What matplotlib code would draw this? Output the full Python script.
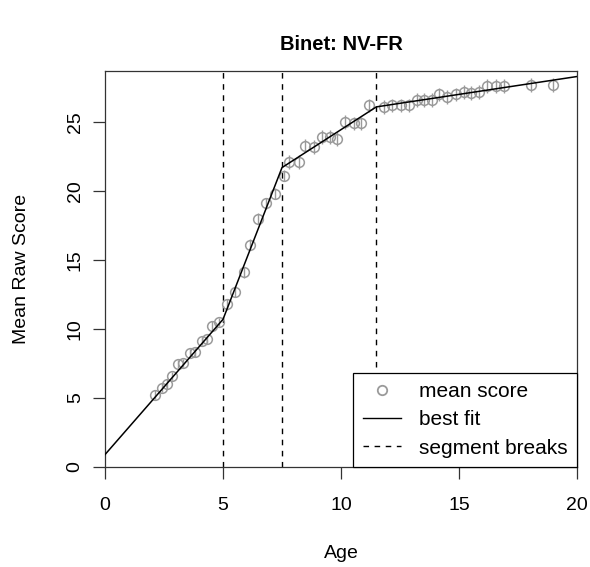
import matplotlib
matplotlib.use("Agg")
import matplotlib.pyplot as plt
from matplotlib.lines import Line2D

# ---- data ----
age = [2.12, 2.41, 2.62, 2.83, 3.11, 3.32, 3.61, 3.82, 4.10, 4.32, 4.53, 4.81,
       5.17, 5.52, 5.87, 6.16, 6.48, 6.82, 7.20, 7.57,
       7.80, 8.21, 8.49, 8.84, 9.20, 9.55, 9.84, 10.19, 10.54, 10.83, 11.18,
       11.82, 12.17, 12.53, 12.88, 13.24, 13.52, 13.87, 14.15, 14.50, 14.86,
       15.22, 15.50, 15.85, 16.20, 16.56, 16.91, 18.05, 19.00]
mean_score = [5.25, 5.7, 6.05, 6.6, 7.45, 7.55, 8.25, 8.3, 9.15, 9.3, 10.25, 10.5,
              11.8, 12.7, 14.1, 16.1, 18.0, 19.1, 19.8, 21.1,
              22.1, 22.1, 23.3, 23.2, 23.9, 23.9, 23.8, 25.0, 24.9, 24.9, 26.2,
              26.1, 26.2, 26.2, 26.2, 26.6, 26.6, 26.6, 27.0, 26.8, 27.0,
              27.2, 27.1, 27.2, 27.6, 27.6, 27.6, 27.7, 27.7]
score_err = [0.3] * 12 + [0.4] * 8 + [0.5] * 29

fit_age = [0, 5, 7.5, 11.5, 20]
fit_score = [0.9, 10.7, 21.7, 26.1, 28.3]

breaks = [5, 7.5, 11.5]

xticks = [0, 5, 10, 15, 20]
yticks = [0, 5, 10, 15, 20, 25]

# ---- figure ----
plt.rcParams['font.family'] = ['Liberation Sans', 'DejaVu Sans']
W, H = 590, 567
fig = plt.figure(figsize=(W / 100, H / 100), dpi=100)
L, R, T, B = 105, 577, 71, 467
ax = fig.add_axes([L / W, 1 - B / H, (R - L) / W, (B - T) / H])

gray = '#9a9a9a'
ax.errorbar(age, mean_score, yerr=score_err, fmt='none', ecolor=gray,
            elinewidth=1.0, capsize=0, zorder=2)
ax.plot(age, mean_score, linestyle='none', marker='o', markersize=7.0,
        markerfacecolor='none', markeredgecolor=gray, markeredgewidth=1.1, zorder=3)
ax.plot(fit_age, fit_score, color='black', linewidth=1.1, zorder=4)
for b in breaks:
    ax.axvline(b, color='black', linestyle=(0, (4, 4)), linewidth=1.0, zorder=1)

ax.set_xlim(0, 20)
ax.set_ylim(0, 28.7)
ax.set_xticks(xticks)
ax.set_yticks(yticks)
ax.tick_params(axis='both', direction='out', length=8.3, width=0.9,
               labelsize=14, color='#333333')
ax.tick_params(axis='x', pad=13)
ax.tick_params(axis='y', pad=7)
for lab in ax.get_yticklabels():
    lab.set_rotation(90)
    lab.set_va('center')
for s in ax.spines.values():
    s.set_linewidth(0.9)
    s.set_color('#333333')

fig.text((L + R) / 2 / W, 1 - 45 / H, 'Binet: NV-FR', ha='center', va='center',
         fontsize=14.5, fontweight='bold')
fig.text((L + R) / 2 / W, 1 - 553 / H, 'Age', ha='center', va='center', fontsize=14)
fig.text(22 / W, 1 - ((T + B) / 2) / H, 'Mean Raw Score', ha='center', va='center',
         rotation=90, fontsize=14)

handles = [
    Line2D([], [], linestyle='none', marker='o', markersize=6.8,
           markerfacecolor='none', markeredgecolor=gray, markeredgewidth=1.3),
    Line2D([], [], color='black', linewidth=1.0),
    Line2D([], [], color='black', linestyle=(0, (4, 4)), linewidth=1.0),
]
leg = ax.legend(handles, ['mean score', 'best fit', 'segment breaks'],
                loc='lower right', borderaxespad=0, fancybox=False,
                edgecolor='black', framealpha=1, fontsize=15,
                handlelength=1.83, handletextpad=0.87, labelspacing=0.44,
                borderpad=0.45)
leg.get_frame().set_linewidth(0.9)

fig.savefig('out.png', dpi=100)
